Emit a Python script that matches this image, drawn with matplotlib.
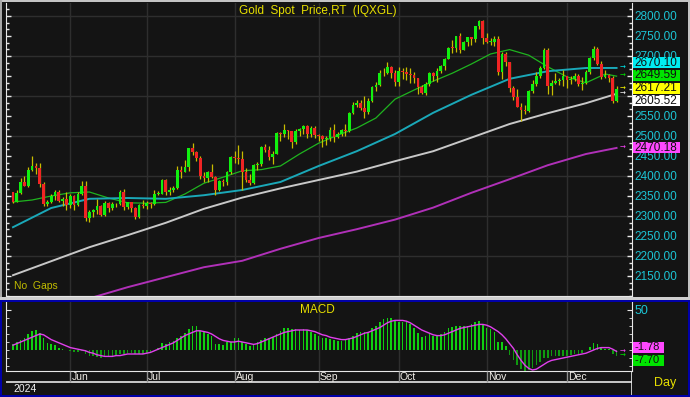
import matplotlib
matplotlib.use('Agg')
import matplotlib.pyplot as plt
import numpy as np
import pandas as pd
from matplotlib.patches import Rectangle
from matplotlib.ticker import FixedLocator
from matplotlib.transforms import blended_transform_factory

plt.rcParams['font.family'] = ['Liberation Sans', 'DejaVu Sans']

# ---------------- data ----------------
first_day, last_day = '2024-05-13', '2024-12-19'

opens = [2360, 2336, 2358, 2386, 2376, 2415, 2425, 2421, 2379, 2329, 2334, 2351, 2361, 2338, 2343,
         2327, 2350, 2327, 2355, 2376, 2294, 2311, 2316, 2325, 2303, 2333, 2319, 2329, 2329, 2360,
         2322, 2334, 2319, 2298, 2327,
         2326, 2332, 2330, 2356, 2356, 2391, 2359, 2364, 2371, 2414, 2411, 2422, 2469, 2459, 2445,
         2400, 2396, 2409, 2397, 2364, 2387, 2384, 2410,
         2447, 2446, 2443, 2409, 2390, 2382, 2427, 2431, 2472, 2465, 2447, 2456, 2507, 2504, 2514,
         2512, 2484, 2512, 2518, 2525, 2504, 2521,
         2503, 2500, 2493, 2495, 2516, 2497, 2506, 2516, 2512, 2558, 2578, 2582, 2569, 2559, 2587,
         2622, 2628, 2657, 2657, 2672, 2658,
         2634, 2662, 2659, 2656, 2653, 2644, 2622, 2608, 2630, 2657, 2649, 2662, 2674, 2693, 2721,
         2720, 2749, 2715, 2736, 2747, 2743, 2774, 2788,
         2744, 2736, 2736, 2743, 2659, 2706, 2685, 2619, 2598, 2573, 2565, 2563, 2612, 2631, 2651,
         2670, 2715, 2625, 2633, 2637, 2640,
         2650, 2640, 2643, 2650, 2631, 2633, 2660, 2694, 2718, 2680, 2648, 2653, 2646, 2587]
highs = [2361, 2365, 2395, 2400, 2422, 2450, 2432, 2432, 2385, 2340, 2356, 2364, 2364, 2348, 2361,
         2354, 2353, 2360, 2388, 2387, 2314, 2318, 2342, 2328, 2338, 2336, 2334, 2333, 2365, 2368,
         2335, 2335, 2323, 2331, 2339,
         2338, 2334, 2365, 2363, 2393, 2393, 2372, 2376, 2424, 2424, 2440, 2470, 2483, 2463, 2449,
         2410, 2412, 2431, 2400, 2390, 2393, 2412, 2451,
         2463, 2477, 2462, 2421, 2404, 2431, 2436, 2474, 2479, 2475, 2463, 2509, 2510, 2531, 2514,
         2513, 2517, 2520, 2528, 2527, 2524, 2524,
         2505, 2503, 2500, 2523, 2529, 2510, 2517, 2529, 2560, 2586, 2589, 2590, 2600, 2596, 2625,
         2634, 2664, 2670, 2685, 2674, 2665,
         2673, 2670, 2672, 2671, 2660, 2646, 2627, 2635, 2661, 2660, 2670, 2678, 2696, 2722, 2740,
         2749, 2758, 2738, 2748, 2748, 2775, 2790, 2790,
         2757, 2746, 2750, 2750, 2710, 2710, 2686, 2625, 2618, 2583, 2578, 2614, 2639, 2660, 2674,
         2721, 2720, 2641, 2658, 2645, 2665,
         2651, 2650, 2658, 2655, 2647, 2666, 2697, 2726, 2722, 2688, 2664, 2655, 2649, 2625]
lows = [2333, 2335, 2354, 2374, 2372, 2412, 2406, 2373, 2326, 2325, 2332, 2340, 2334, 2326, 2314,
        2320, 2315, 2325, 2352, 2287, 2286, 2298, 2306, 2301, 2300, 2311, 2316, 2322, 2327, 2316,
        2318, 2310, 2293, 2296, 2319,
        2318, 2319, 2327, 2352, 2354, 2353, 2352, 2361, 2367, 2394, 2410, 2412, 2453, 2437, 2392,
        2384, 2385, 2394, 2353, 2362, 2375, 2377, 2405,
        2432, 2431, 2364, 2385, 2377, 2381, 2414, 2425, 2461, 2440, 2431, 2455, 2488, 2497, 2493,
        2470, 2480, 2500, 2506, 2494, 2498, 2494,
        2488, 2472, 2477, 2488, 2485, 2495, 2500, 2500, 2510, 2555, 2573, 2564, 2546, 2555, 2585,
        2613, 2624, 2651, 2656, 2644, 2624,
        2624, 2643, 2641, 2633, 2632, 2605, 2604, 2603, 2625, 2638, 2635, 2658, 2665, 2692, 2708,
        2711, 2708, 2714, 2726, 2728, 2735, 2768, 2730,
        2733, 2727, 2726, 2652, 2643, 2676, 2611, 2589, 2572, 2537, 2555, 2561, 2607, 2625, 2646,
        2668, 2605, 2602, 2630, 2628, 2625,
        2621, 2630, 2638, 2625, 2615, 2630, 2655, 2690, 2678, 2643, 2645, 2635, 2583, 2585]
closes = [2336, 2358, 2386, 2376, 2415, 2425, 2421, 2379, 2329, 2334, 2351, 2361, 2338, 2343, 2327,
          2350, 2327, 2355, 2376, 2294, 2311, 2316, 2325, 2303, 2333, 2319, 2329, 2329, 2360, 2322,
          2334, 2319, 2298, 2327, 2326,
          2332, 2330, 2356, 2356, 2391, 2359, 2364, 2371, 2414, 2411, 2422, 2469, 2459, 2445, 2400,
          2396, 2409, 2397, 2364, 2387, 2384, 2410, 2447,
          2446, 2443, 2409, 2390, 2382, 2427, 2431, 2472, 2465, 2447, 2456, 2507, 2504, 2514, 2512,
          2484, 2512, 2518, 2525, 2504, 2521, 2503,
          2500, 2493, 2495, 2516, 2497, 2506, 2516, 2512, 2558, 2578, 2582, 2569, 2559, 2587, 2622,
          2628, 2657, 2657, 2672, 2658, 2634,
          2662, 2659, 2656, 2653, 2644, 2622, 2608, 2630, 2657, 2649, 2662, 2674, 2693, 2721, 2720,
          2749, 2715, 2736, 2747, 2743, 2774, 2788, 2744,
          2736, 2736, 2743, 2659, 2706, 2685, 2619, 2598, 2573, 2565, 2563, 2612, 2631, 2651, 2670,
          2715, 2625, 2633, 2637, 2640, 2650,
          2640, 2643, 2650, 2631, 2633, 2660, 2694, 2718, 2680, 2648, 2653, 2646, 2587, 2617.21]

# moving averages at a few dates
ma20_dates = ['2024-05-13', '2024-05-20', '2024-05-27', '2024-06-03', '2024-06-10', '2024-06-17',
              '2024-06-24', '2024-07-01', '2024-07-08', '2024-07-15', '2024-07-22', '2024-07-29',
              '2024-08-05', '2024-08-12', '2024-08-19', '2024-08-26', '2024-09-02', '2024-09-09',
              '2024-09-16', '2024-09-23', '2024-09-30', '2024-10-07', '2024-10-14', '2024-10-21',
              '2024-10-28', '2024-11-04', '2024-11-11', '2024-11-18', '2024-11-25', '2024-12-02',
              '2024-12-09', '2024-12-16', '2024-12-19']
ma20 = [2335, 2340, 2350, 2358, 2360, 2345, 2333, 2332, 2334, 2355, 2382, 2397, 2413, 2416, 2425,
        2455, 2482, 2502, 2520, 2545, 2592, 2615, 2637, 2657, 2680, 2705, 2716, 2702, 2673, 2648,
        2633, 2655, 2649.59]
ma_dates = ['2024-05-13', '2024-05-27', '2024-06-10', '2024-06-24', '2024-07-08', '2024-07-22',
            '2024-08-05', '2024-08-19', '2024-09-02', '2024-09-16', '2024-09-30', '2024-10-14',
            '2024-10-28', '2024-11-11', '2024-11-25', '2024-12-09', '2024-12-19']
ma50 = [2272, 2320, 2343, 2345, 2343, 2352, 2365, 2385, 2425, 2462, 2505, 2558, 2603, 2643, 2662,
        2670, 2670.10]
ma100 = [2152, 2187, 2222, 2252, 2283, 2318, 2346, 2369, 2390, 2411, 2437, 2462, 2496, 2530, 2557,
         2582, 2605.52]
ma200 = [2094, 2122, 2147, 2172, 2188, 2218, 2245, 2267, 2291, 2321, 2358, 2392, 2427, 2455, 2470.18]
ma200_dates = ma_dates[2:]

macd = [7, 10, 13, 15, 20, 24, 25, 21, 15, 9,
        7, 6, 3, 1, 0, -1, -3, -2, -1, -5,
        -7, -8, -9, -10, -9, -9, -8, -7, -5, -5,
        -4, -4, -5, -5, -5, -4, -3, -1, 2, 9,
        8, 10, 11, 15, 18, 21, 26, 30, 30, 24,
        22, 20, 17, 8, 7, 6, 10, 10, 15, 15,
        10, 8, 5, 8, 10, 12, 15, 15, 16, 20,
        24, 27, 27, 26, 26, 25, 26, 25, 23, 20,
        17, 15, 15, 14, 12, 11, 11, 12, 15, 17,
        21, 22, 23, 23, 27, 30, 35, 39, 40, 40,
        37, 35, 35, 35, 33, 27, 21, 16, 17, 20,
        17, 18, 20, 23, 27, 29, 30, 30, 30, 30,
        32, 35, 36, 31, 28, 26, 23, 10, 10, 5,
        -6, -12, -19, -24, -26, -25, -23, -19, -15, -10,
        -10, -8, -8, -8, -8, -7, -6, -5, -5, -4,
        0, 4, 9, 7, 4, 1, 1, -5, -7.70]
signal = [6, 8, 10, 12, 14, 16, 18, 20, 19, 16,
          13, 11, 9, 7, 5, 3, 2, 1, 0, -1,
          -3, -4, -6, -7, -8, -8, -8, -7, -7, -6,
          -5, -5, -5, -5, -5, -4, -3, -1, 1, 3,
          5, 7, 9, 12, 15, 18, 20, 22, 24, 24,
          23, 22, 20, 17, 14, 12, 11, 10, 10, 11,
          10, 9, 8, 7, 8, 10, 12, 14, 16, 18,
          20, 22, 23, 24, 25, 25, 25, 25, 24, 23,
          21, 19, 18, 16, 15, 14, 13, 13, 14, 15,
          17, 19, 21, 22, 24, 26, 28, 31, 34, 36,
          37, 37, 37, 36, 34, 31, 28, 25, 23, 21,
          19, 18, 18, 19, 21, 23, 25, 27, 28, 29,
          30, 31, 32, 32, 31, 29, 26, 23, 19, 14,
          8, 2, -6, -13, -19, -23, -25, -24, -21, -18,
          -15, -13, -12, -11, -10, -9, -8, -7, -6, -5,
          -4, -2, 0, 2, 3, 3, 3, 1, -1.78]

# ---------------- styles ----------------
BG = '#141414'
GRID = '#2e2e2e'
AXCOL = '#e8e8e8'
CYAN_TXT = '#1cc4d4'
YELLOW = '#e8e000'
W, H = 690, 397
PX0, STEP = 13, 3.82          # pixel of first candle, pixels per trading day


def fx(px):
    return px / W


def fy(py):
    return 1 - py / H


def spread(values, gap):
    # overlapping price tags are stacked around their mean, like the terminal does
    order = sorted(values, reverse=True)
    groups = [[v] for v in order]
    merged = True
    while merged:
        merged = False
        for k in range(len(groups) - 1):
            a, b = groups[k], groups[k + 1]
            low_a = np.mean(a) - (len(a) - 1) * gap / 2
            high_b = np.mean(b) + (len(b) - 1) * gap / 2
            if low_a - high_b < gap:
                groups[k] = a + b
                del groups[k + 1]
                merged = True
                break
    pos = {}
    for g in groups:
        m = np.mean(g)
        for i, v in enumerate(g):
            pos[v] = m + ((len(g) - 1) / 2 - i) * gap
    return [pos[v] for v in values]


def price_tags(ax, values, colors, px_per_unit, box_w_px, size):
    tr = blended_transform_factory(ax.transAxes, ax.transData)
    ax_w = ax.get_position().width * W
    ys = spread(values, 12.6 / px_per_unit)
    h = 11 / px_per_unit
    for v, y, c in zip(values, ys, colors):
        ax.add_patch(Rectangle((1 + 1.0 / ax_w, y - h / 2), box_w_px / ax_w, h, transform=tr,
                               facecolor=c, edgecolor='none', clip_on=False, zorder=10))
        ax.text(1 + 2.5 / ax_w, y, f'{v:.2f}', transform=tr, color='#101010', fontsize=size,
                va='center', ha='left', clip_on=False, zorder=11)
        ax.text(1 - 9.0 / ax_w, v, '\u2192', transform=tr, color=c, fontsize=5,
                va='center', ha='center', family=['DejaVu Sans'], zorder=11)


dates = pd.bdate_range(first_day, last_day)
x = np.arange(len(dates))
month_idx = [i for i in range(1, len(dates)) if dates[i].month != dates[i - 1].month]
month_lab = [dates[i].strftime('%b') for i in month_idx]
xlim = ((6 - PX0) / STEP, (632 - PX0) / STEP)

fig = plt.figure(figsize=(6.9, 3.97), dpi=100, facecolor=BG)
ax = fig.add_axes([fx(6), fy(296), fx(626), fy(3) - fy(296)], facecolor=BG)
axm = fig.add_axes([fx(6), fy(371), fx(626), fy(302) - fy(371)], facecolor=BG)
axd = fig.add_axes([fx(6), fy(395), fx(626), fy(371) - fy(395)], facecolor=BG)

# ---------------- price panel ----------------
o, hi, lo, c = map(np.array, (opens, highs, lows, closes))
up = c >= o
ax.vlines(x, lo, hi, color='#c8bc00', lw=0.9, zorder=3)
body_h = np.maximum(np.abs(c - o), 1.5)
ax.bar(x, body_h, bottom=np.minimum(o, c), width=0.72,
       color=np.where(up, '#10f010', '#f02424'), linewidth=0, zorder=4)

ma20_x = dates.get_indexer(pd.to_datetime(ma20_dates))
ma_x = dates.get_indexer(pd.to_datetime(ma_dates))
ma200_x = dates.get_indexer(pd.to_datetime(ma200_dates))
ax.plot(ma20_x, ma20, color='#1fb41f', lw=0.9, zorder=2)
ax.plot(ma_x, ma50, color='#1aa8b8', lw=1.4, zorder=2)
ax.plot(ma_x, ma100, color='#c8c8c8', lw=1.4, zorder=2)
ax.plot(ma200_x, ma200, color='#b030b8', lw=1.4, zorder=2)

for v in range(2100, 2801, 100):
    ax.axhline(v, color=GRID, lw=1, zorder=0)
for i in month_idx:
    ax.axvline(i, color=GRID, lw=1, zorder=0)
    axm.axvline(i, color=GRID, lw=1, zorder=0)

ax.set_xlim(*xlim)
ax.set_ylim(2100, 2832.5)
ax.set_xticks([])
# the levels hidden behind the price tags are not labelled in the terminal either
hidden = (2600, 2650)
ax.yaxis.set_major_locator(FixedLocator(np.arange(2150, 2801, 50)))
ax.yaxis.set_minor_locator(FixedLocator(np.arange(2100, 2832, 50 / 3)))
ax.yaxis.set_major_formatter(lambda v, p: '' if round(v) in hidden else f'{v:.2f}')
ax.tick_params(axis='y', which='both', direction='in', left=True, right=True,
               labelleft=False, labelright=True, color=AXCOL, labelcolor=CYAN_TXT,
               labelsize=8.5, pad=1.5)
ax.tick_params(axis='y', which='major', length=3.5, width=1)
ax.tick_params(axis='y', which='minor', length=2, width=1)
for s in ('left', 'right', 'bottom'):
    ax.spines[s].set_color(AXCOL)
ax.spines['top'].set_visible(False)

price_tags(ax, [2670.10, 2649.59, 2617.21, 2605.52, 2470.18],
           ['#00ecf0', '#00e400', '#ffff00', '#ffffff', '#ff48ff'], 0.4, 47, 8.5)

fig.text(fx(318), fy(11), 'Gold  Spot  Price,RT  (IQXGL)', color=YELLOW, fontsize=8.5,
         ha='center', va='center')
ax.text(0.012, 0.018, 'No  Gaps', transform=ax.transAxes, color='#c0bc00', fontsize=7.5,
        ha='left', va='bottom')

# ---------------- MACD panel ----------------
m = np.array(macd)
axm.bar(x, m, width=0.42, color=np.where(m >= 0, '#10d010', '#109a10'), linewidth=0, zorder=2)
axm.plot(x, signal, color='#e040ec', lw=1, zorder=3)
axm.set_xlim(*xlim)
axm.set_ylim(-26.25, 60)
axm.set_xticks([])
axm.yaxis.set_major_locator(FixedLocator([50]))
axm.yaxis.set_minor_locator(FixedLocator(np.arange(-20, 51, 10)))
axm.tick_params(axis='y', which='both', direction='in', left=True, right=True,
                labelleft=False, labelright=True, color=AXCOL, labelcolor=CYAN_TXT,
                labelsize=9, pad=1.5)
axm.tick_params(axis='y', which='major', length=3.5)
axm.tick_params(axis='y', which='minor', length=2)
for s in ('left', 'right', 'bottom'):
    axm.spines[s].set_color(AXCOL)
axm.spines['top'].set_visible(False)
axm.text(fx(317 - 6) / fx(626), (371 - 310) / 69, 'MACD', transform=axm.transAxes,
         color=YELLOW, fontsize=8.5, ha='center', va='center')
price_tags(axm, [-1.78, -7.70], ['#ff48ff', '#00e400'], 0.8, 31, 8)

# ---------------- date strip ----------------
axd.set_xlim(*xlim)
axd.set_ylim(0, 24)
axd.axis('off')
axd.axhline(13, color=AXCOL, lw=1.2)
axd.axvline(xlim[1], color=AXCOL, lw=1.2)
for i, lab in zip(month_idx, month_lab):
    axd.vlines(i, 13, 24, color='#909090', lw=1)
    axd.text(i + 0.3, 17.5, lab, color='#f0ece6', fontsize=7.5, ha='left', va='center')
axd.text(0.2, 6, str(dates[0].year), color='#f0f0f0', fontsize=7.5, ha='left', va='center')
fig.text(fx(665), fy(383), 'Day', color=YELLOW, fontsize=9, ha='center', va='center')

# ---------------- window frame ----------------
def frame(x0, y0, x1, y1, color):
    fig.add_artist(Rectangle((fx(x0), fy(y1)), fx(x1 - x0), fy(y0) - fy(y1),
                             transform=fig.transFigure, facecolor=color, edgecolor='none'))

frame(0, 0, 690, 1.5, '#c4c4c4')
frame(0, 0, 1.5, 297, '#a8a8a8')
frame(688, 0, 690, 300, '#c4c4c4')
frame(0, 297, 690, 299.5, '#d0d0d0')
frame(0, 300, 690, 302, '#0000a8')
frame(0, 300, 2, 397, '#0000a8')
frame(0, 395, 690, 397, '#0000a8')
frame(688, 300, 690, 397, '#0000a8')

fig.savefig('out.png', dpi=100, facecolor=BG)
